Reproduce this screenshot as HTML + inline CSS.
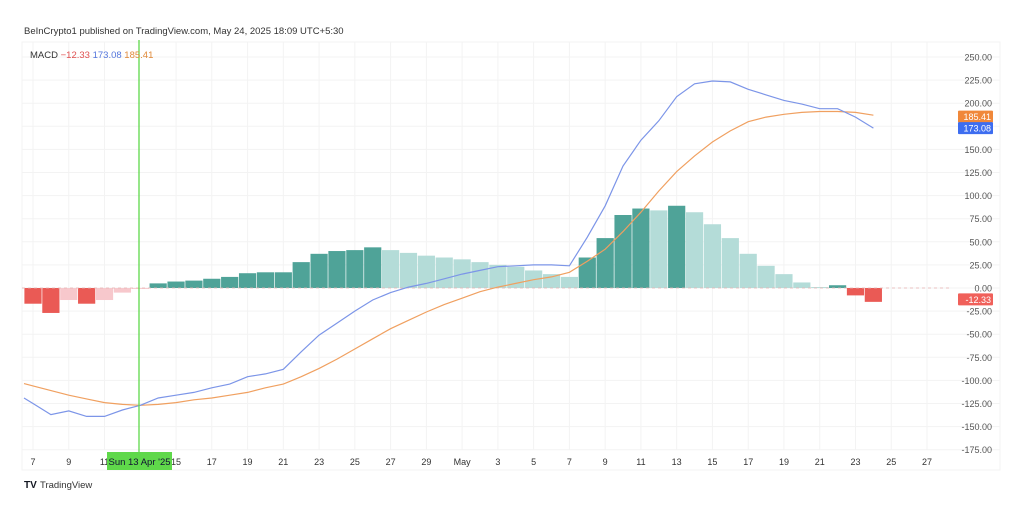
<!DOCTYPE html>
<html><head><meta charset="utf-8"><style>
body{margin:0;background:#fff;font-family:"Liberation Sans",sans-serif;}
svg text{font-family:"Liberation Sans",sans-serif;}
</style></head><body>
<svg id="c" width="1024" height="501" xmlns="http://www.w3.org/2000/svg">
<defs><clipPath id="pc"><rect x="22" y="42" width="930" height="410"/></clipPath></defs>
<text x="24" y="34" font-size="9.5" fill="#333">BeInCrypto1 published on TradingView.com, May 24, 2025 18:09 UTC+5:30</text>
<rect x="22" y="42" width="978" height="428" fill="none" stroke="#f3f3f3"/>
<g id="grid"></g>
<g id="hist"></g>
<line x1="22" x2="950" y1="288" y2="288" stroke="#e6b0b0" stroke-dasharray="3,3" stroke-width="0.8"/>
<g clip-path="url(#pc)">
<path id="sig" fill="none" stroke="#f0a060" stroke-width="1.2"/>
<path id="macd" fill="none" stroke="#7c95e8" stroke-width="1.2"/>
</g>
<g id="yax"></g>
<g id="xax"></g>
<line x1="139" x2="139" y1="40" y2="452" stroke="#5fd84a" stroke-width="1.3"/>
<rect x="107" y="452" width="65" height="18" fill="#5fd84a"/>
<text x="139.5" y="465" font-size="9.5" fill="#113" text-anchor="middle">Sun 13 Apr '25</text>
<text x="30" y="58" font-size="9.5"><tspan fill="#333">MACD </tspan><tspan fill="#e05050"> −12.33 </tspan><tspan fill="#5577dd"> 173.08 </tspan><tspan fill="#e08a3a"> 185.41</tspan></text>
<g id="tags"></g>
<text x="24" y="488" font-size="10" font-weight="bold" fill="#131722">TV</text>
<text x="40" y="488" font-size="9.5" fill="#333">TradingView</text>
</svg>
<script>
const histVals=[-17,-27,-13,-17,-13,-5,-1,5,7,8,10,12,16,17,17,28,37,40,41,44,41,38,35,33,31,28,25,23,19,15,12,33,54,79,86,84,89,82,69,54,37,24,15,6,1,3,-8,-15];
const macdVals=[-125,-137,-133,-139,-139,-132,-127,-119,-116,-113,-108,-104,-96,-93,-88,-69,-51,-38,-25,-13,-5,1,5,10,15,19,23,24,25,25,24,55,89,132,160,181,207,221,224,223,215,209,203,199,194,194,185,173];
const signalVals=[-106,-111,-116,-120,-124,-126,-127,-126,-124,-121,-119,-116,-113,-108,-104,-96,-87,-77,-66,-55,-44,-35,-26,-18,-11,-4,1,5,9,12,17,29,42,61,82,105,126,143,158,170,180,185,188,190,191,191,190,187];
const yTicks=[250,225,200,175,150,125,100,75,50,25,0,-25,-50,-75,-100,-125,-150,-175];
const xTickDays=[0,2,4,8,10,12,14,16,18,20,22,24,26,28,30,32,34,36,38,40,42,44,46,48,50];
const xTickLabels=["7","9","11","15","17","19","21","23","25","27","29","May","3","5","7","9","11","13","15","17","19","21","23","25","27"];
const NS="http://www.w3.org/2000/svg";
const X=d=>33+17.88*d, Y=v=>288-0.924*v;
function mk(t,a,p){const e=document.createElementNS(NS,t);for(const k in a)e.setAttribute(k,a[k]);p.appendChild(e);return e;}
const grid=document.getElementById('grid'),hist=document.getElementById('hist'),yax=document.getElementById('yax'),xax=document.getElementById('xax'),tags=document.getElementById('tags');
yTicks.forEach(v=>{
 const l=mk('line',{x1:22,x2:1000,y1:Y(v),y2:Y(v),stroke:'#f3f3f3'},grid);
 
 
 const t=mk('text',{x:992,y:Y(v)+3.5,'font-size':9,fill:'#555','text-anchor':'end'},yax);
 t.textContent=v.toFixed(2);
 
 
});
xTickDays.forEach((d,i)=>{
 const l=mk('line',{x1:X(d),x2:X(d),y1:42,y2:450,stroke:'#f3f3f3'},grid);
 
 
 const t=mk('text',{x:X(d),y:465,'font-size':9,fill:'#333','text-anchor':'middle'},xax);
 t.textContent=xTickLabels[i];
 
 
});
histVals.forEach((v,i)=>{
 const prev=i>0?histVals[i-1]:v;
 let c;
 if(v>=0)c=(v>=prev)?'#4fa398':'#b4dcd8';else c=(v<=prev)?'#ea5a55':'#f7c8cc';
 const y0=Y(0),y1=Y(v);
 const r=mk('rect',{x:X(i)-8.6,y:Math.min(y0,y1),width:17.2,height:Math.max(0.8,Math.abs(y1-y0)),fill:c},hist);
 
 
});
const path=a=>a.map((v,i)=>(i?'L':'M')+X(i).toFixed(1)+','+Y(v).toFixed(1)).join('');
const ext=a=>'M'+(X(0)-9)+','+Y(a[0]+(a[0]-a[1])*0.5).toFixed(1)+path(a).replace('M','L');
document.getElementById('macd').setAttribute('d',ext(macdVals));
document.getElementById('sig').setAttribute('d',ext(signalVals));
function tag(v,label,col,name){
 const r=mk('rect',{x:958,y:Y(v)-6,width:35,height:12,fill:col,rx:1},tags);
 
 
 const t=mk('text',{x:991,y:Y(v)+3.5,'font-size':9,fill:'#fff','text-anchor':'end'},tags);
 t.textContent=label;
 
 
}
tag(185.41,'185.41','#f0883a','signal-price-tag');
tag(173.08,'173.08','#3d6df0','macd-price-tag');
tag(-12.33,'-12.33','#f0605a','hist-price-tag');
</script>
</body></html>
